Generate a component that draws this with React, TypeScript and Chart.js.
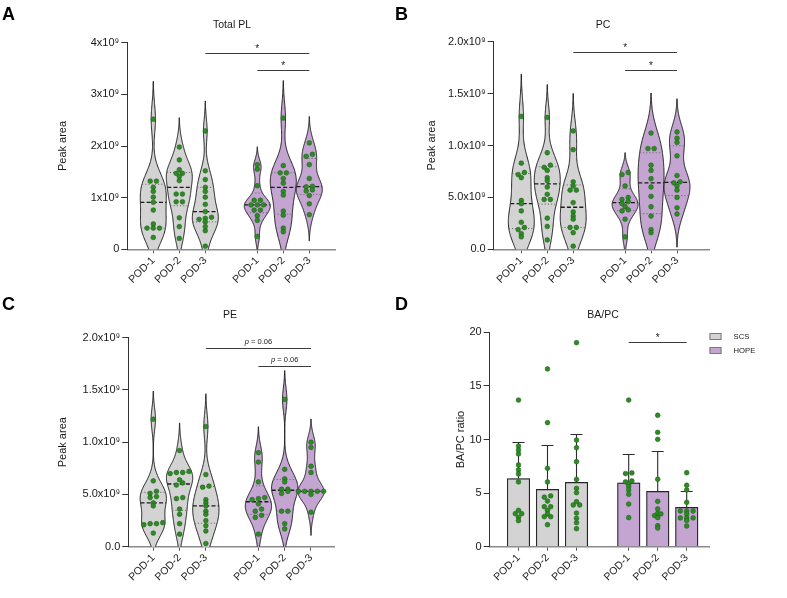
import React, { useEffect, useRef } from 'react';
import { Chart, registerables } from 'chart.js';

Chart.register(...registerables);

const FONT = "'Liberation Sans', Arial, Helvetica, sans-serif";
const INK = '#1a1a1a';
const SCS_FILL = '#d3d3d3';
const HOPE_FILL = '#c4a5d2';
const DOT_FILL = '#2d8a25';
const DOT_EDGE = '#1b5a14';

const TIMEPOINTS = ['POD-1', 'POD-2', 'POD-3'];
const GROUPS = ['SCS', 'HOPE'];
const GROUP_FILLS = [SCS_FILL, HOPE_FILL];

// Total PL, peak area (x10^9), one list per time point
const totalPlScs = [
  [2.52, 1.32, 1.32, 1.2, 1.12, 1.01, 0.91, 0.76, 0.49, 0.41, 0.41, 0.41, 0.23],
  [1.98, 1.73, 1.54, 1.47, 1.47, 1.41, 1.33, 1.07, 1.07, 0.92, 0.92, 0.61, 0.44, 0.21],
  [2.29, 1.52, 1.35, 1.2, 1.12, 1.01, 0.87, 0.73, 0.62, 0.6, 0.58, 0.53, 0.44, 0.36, 0.06],
];
const totalPlHope = [
  [1.64, 1.55, 1.23, 0.95, 0.95, 0.86, 0.86, 0.86, 0.76, 0.76, 0.65, 0.56, 0.25],
  [2.54, 1.62, 1.48, 1.48, 1.37, 1.28, 1.12, 1.05, 0.74, 0.66, 0.41, 0.34],
  [2.06, 1.84, 1.8, 1.64, 1.37, 1.22, 1.21, 1.15, 1.13, 1.04, 0.88, 0.67],
];

// PC, peak area (x10^9)
const pcScs = [
  [1.28, 0.83, 0.74, 0.72, 0.69, 0.47, 0.44, 0.37, 0.26, 0.21, 0.19, 0.15, 0.12],
  [1.27, 0.93, 0.81, 0.79, 0.76, 0.69, 0.66, 0.6, 0.53, 0.48, 0.48, 0.3, 0.22, 0.09],
  [1.14, 0.96, 0.65, 0.61, 0.57, 0.57, 0.45, 0.36, 0.32, 0.29, 0.21, 0.21, 0.16, 0.03],
];
const pcHope = [
  [0.74, 0.72, 0.61, 0.5, 0.48, 0.46, 0.44, 0.41, 0.38, 0.37, 0.29, 0.12],
  [1.12, 0.97, 0.97, 0.81, 0.76, 0.68, 0.6, 0.51, 0.41, 0.32, 0.19, 0.16],
  [1.13, 1.07, 1.03, 0.9, 0.71, 0.65, 0.64, 0.61, 0.57, 0.5, 0.4, 0.34],
];

// PE, peak area (x10^9)
const peScs = [
  [1.22, 0.63, 0.53, 0.51, 0.48, 0.47, 0.42, 0.39, 0.23, 0.22, 0.22, 0.21, 0.13],
  [0.92, 0.72, 0.71, 0.71, 0.7, 0.64, 0.61, 0.59, 0.47, 0.46, 0.36, 0.31, 0.22, 0.12],
  [1.15, 0.69, 0.58, 0.57, 0.45, 0.42, 0.39, 0.34, 0.31, 0.25, 0.2, 0.15, 0.03],
];
const peHope = [
  [0.9, 0.81, 0.62, 0.47, 0.46, 0.45, 0.41, 0.36, 0.34, 0.3, 0.28, 0.12],
  [1.41, 0.74, 0.65, 0.62, 0.55, 0.55, 0.53, 0.51, 0.34, 0.34, 0.22, 0.17],
  [1.0, 0.95, 0.77, 0.71, 0.53, 0.53, 0.53, 0.53, 0.53, 0.5, 0.33],
];

// BA/PC ratio, individual samples
const ratioScs = [
  [13.68, 9.39, 9.02, 8.65, 7.62, 7.16, 6.78, 6.04, 3.39, 3.08, 3.08, 2.74, 2.43],
  [16.58, 11.57, 7.31, 6.04, 4.74, 4.62, 4.26, 3.73, 3.73, 3.39, 3.05, 2.8, 2.8, 2.05],
  [19.03, 9.95, 9.24, 7.93, 6.28, 5.45, 5.04, 4.2, 3.89, 3.89, 3.14, 2.65, 2.24, 1.68],
];
const ratioHope = [
  [13.68, 6.88, 6.82, 6.13, 6.05, 5.85, 5.6, 5.29, 4.89, 3.98, 2.71],
  [12.26, 10.67, 10.02, 6.29, 4.23, 3.52, 3.1, 3.06, 2.9, 2.71, 1.96, 1.74],
  [6.9, 5.73, 5.29, 4.14, 3.33, 3.33, 3.33, 3.05, 2.68, 2.68, 2.68, 2.45, 1.93],
];
// bar heights (mean) and upper error (SD): SCS POD-1..3, HOPE POD-1..3
const ratioMean = [6.36, 5.35, 6.0, 5.95, 5.16, 3.67];
const ratioSd = [3.38, 4.11, 4.54, 2.73, 3.74, 1.56];

const totalPlTicks = [0, 1, 2, 3, 4];
const totalPlTickLabels = ['0', '1x10⁹', '2x10⁹', '3x10⁹', '4x10⁹'];
const halfTicks = [0, 0.5, 1, 1.5, 2];
const halfTickLabels = ['0.0', '5.0x10⁹', '1.0x10⁹', '1.5x10⁹', '2.0x10⁹'];
const ratioTicks = [0, 5, 10, 15, 20];
const ratioTickLabels = ['0', '5', '10', '15', '20'];

type Bracket = { from: [number, number]; to: [number, number]; y: number; text: string };

const totalPlBrackets: Bracket[] = [
  { from: [0, 2], to: [1, 2], y: 3.81, text: '*' },
  { from: [1, 0], to: [1, 2], y: 3.47, text: '*' },
];
const pcBrackets: Bracket[] = [
  { from: [0, 2], to: [1, 2], y: 1.898, text: '*' },
  { from: [1, 0], to: [1, 2], y: 1.724, text: '*' },
];
const peBrackets: Bracket[] = [
  { from: [0, 2], to: [1, 2], y: 1.9, text: 'p = 0.06' },
  { from: [1, 0], to: [1, 2], y: 1.729, text: 'p = 0.06' },
];
const ratioBrackets: Bracket[] = [{ from: [1, 0], to: [1, 2], y: 19.07, text: '*' }];

interface Frame {
  left: number; top: number; width: number; height: number;
  padL: number; yWidth: number; padR: number; padT: number; xHeight: number;
  xMin: number; xMax: number; titleX: number;
}

// ---------- statistics helpers ----------
function quantile(sorted: number[], p: number) {
  const n = sorted.length;
  const h = (n + 1) * p - 1;
  if (h <= 0) return sorted[0];
  if (h >= n - 1) return sorted[n - 1];
  const lo = Math.floor(h);
  return sorted[lo] + (h - lo) * (sorted[lo + 1] - sorted[lo]);
}

function violinShape(values: number[]) {
  const n = values.length;
  const sorted = [...values].sort((a, b) => a - b);
  const mean = values.reduce((s, v) => s + v, 0) / n;
  const sd = Math.sqrt(values.reduce((s, v) => s + (v - mean) ** 2, 0) / (n - 1));
  const q1 = quantile(sorted, 0.25);
  const q3 = quantile(sorted, 0.75);
  const iqr = q3 - q1;
  const spread = iqr > 0 ? Math.min(sd, iqr / 1.34) : sd;
  const bw = 0.8 * spread * Math.pow(n, -0.2);
  const density = (y: number) => values.reduce((s, v) => s + Math.exp(-0.5 * ((y - v) / bw) ** 2), 0);
  const lo = sorted[0] - 2.5 * bw;
  const hi = sorted[n - 1] + 2.5 * bw;
  const steps = 220;
  const raw: { y: number; d: number }[] = [];
  let peak = 0;
  for (let i = 0; i <= steps; i++) {
    const y = lo + ((hi - lo) * i) / steps;
    const d = density(y);
    raw.push({ y, d });
    if (d > peak) peak = d;
  }
  return {
    profile: raw.map((p) => ({ y: p.y, w: p.d / peak })),
    widthAt: (y: number) => density(y) / peak,
    median: quantile(sorted, 0.5),
    q1,
    q3,
  };
}

// rows of near-equal values are spread symmetrically around the column centre
function swarmOffsets(values: number[], tol: number, step: number) {
  const order = values.map((_, i) => i).sort((a, b) => values[a] - values[b]);
  const off = new Array(values.length).fill(0);
  let i = 0;
  while (i < order.length) {
    let j = i;
    while (j + 1 < order.length && values[order[j + 1]] - values[order[i]] <= tol) j++;
    const k = j - i + 1;
    for (let m = 0; m < k; m++) off[order[i + m]] = (m - (k - 1) / 2) * step;
    i = j + 1;
  }
  return off;
}

function swarmData(series: number[][][], slotOf: (g: number, t: number) => number, tol: number, step: number) {
  const pts: { x: number; y: number }[] = [];
  series.forEach((group, g) =>
    group.forEach((vals, t) => {
      const off = swarmOffsets(vals, tol, step);
      vals.forEach((v, i) => pts.push({ x: slotOf(g, t) + off[i], y: v }));
    })
  );
  return pts;
}

// ---------- plugins ----------
function violinPlugin(series: number[][][], slotOf: (g: number, t: number) => number, half: number) {
  const shapes: { slot: number; fill: string; shape: ReturnType<typeof violinShape> }[] = [];
  series.forEach((group, g) =>
    group.forEach((vals, t) => shapes.push({ slot: slotOf(g, t), fill: GROUP_FILLS[g], shape: violinShape(vals) }))
  );
  return {
    id: 'violins',
    beforeDatasetsDraw(chart: any) {
      const { ctx, chartArea: a, scales } = chart;
      const x = scales.x;
      const y = scales.y;
      ctx.save();
      ctx.beginPath();
      ctx.rect(a.left, a.top, a.right - a.left, a.bottom - a.top);
      ctx.clip();
      for (const v of shapes) {
        const { profile, widthAt, median, q1, q3 } = v.shape;
        const px = (o: number) => x.getPixelForValue(v.slot + o);
        ctx.beginPath();
        profile.forEach((p, i) => {
          const X = px(p.w * half);
          const Y = y.getPixelForValue(p.y);
          if (i === 0) ctx.moveTo(X, Y);
          else ctx.lineTo(X, Y);
        });
        for (let i = profile.length - 1; i >= 0; i--) {
          const p = profile[i];
          ctx.lineTo(px(-p.w * half), y.getPixelForValue(p.y));
        }
        ctx.closePath();
        ctx.fillStyle = v.fill;
        ctx.fill();
        ctx.setLineDash([]);
        ctx.lineWidth = 1;
        ctx.lineJoin = 'round';
        ctx.strokeStyle = INK;
        ctx.stroke();
        const hline = (val: number, dash: number[], color: string, lw: number) => {
          const w = widthAt(val) * half;
          const Y = y.getPixelForValue(val);
          ctx.setLineDash(dash);
          ctx.strokeStyle = color;
          ctx.lineWidth = lw;
          ctx.beginPath();
          ctx.moveTo(px(-w), Y);
          ctx.lineTo(px(w), Y);
          ctx.stroke();
        };
        hline(q1, [1.2, 2], '#6a6a6a', 1);
        hline(q3, [1.2, 2], '#6a6a6a', 1);
        hline(median, [4, 2.2], INK, 1.3);
      }
      ctx.setLineDash([]);
      ctx.restore();
    },
  };
}

function decorPlugin(opts: {
  letter: string; title: string; titleX: number; brackets: Bracket[];
  slotOf: (g: number, t: number) => number; legend?: boolean;
}) {
  return {
    id: 'decor',
    afterDraw(chart: any) {
      const { ctx, scales, chartArea } = chart;
      const x = scales.x;
      const y = scales.y;
      ctx.save();
      ctx.fillStyle = '#000';
      ctx.font = `bold 18px ${FONT}`;
      ctx.textAlign = 'left';
      ctx.textBaseline = 'alphabetic';
      ctx.fillText(opts.letter, 2, 20);

      ctx.fillStyle = INK;
      ctx.font = `10.5px ${FONT}`;
      ctx.textAlign = 'center';
      ctx.textBaseline = 'middle';
      ctx.fillText(opts.title, opts.titleX, 25);

      ctx.strokeStyle = '#3c3c3c';
      ctx.lineWidth = 1;
      for (const b of opts.brackets) {
        const x1 = x.getPixelForValue(opts.slotOf(b.from[0], b.from[1]));
        const x2 = x.getPixelForValue(opts.slotOf(b.to[0], b.to[1]));
        const yy = Math.round(y.getPixelForValue(b.y)) + 0.5;
        ctx.beginPath();
        ctx.moveTo(x1, yy);
        ctx.lineTo(x2, yy);
        ctx.stroke();
        const mid = (x1 + x2) / 2;
        ctx.textBaseline = 'alphabetic';
        if (b.text.startsWith('p ')) {
          const rest = b.text.slice(1);
          ctx.font = `italic 7.5px ${FONT}`;
          const wp = ctx.measureText('p').width;
          ctx.font = `7.5px ${FONT}`;
          const wr = ctx.measureText(rest).width;
          const start = mid - (wp + wr) / 2;
          ctx.textAlign = 'left';
          ctx.font = `italic 7.5px ${FONT}`;
          ctx.fillText('p', start, yy - 4.5);
          ctx.font = `7.5px ${FONT}`;
          ctx.fillText(rest, start + wp, yy - 4.5);
        } else {
          ctx.font = `10px ${FONT}`;
          ctx.textAlign = 'center';
          ctx.fillText(b.text, mid, yy - 1.5);
        }
      }

      if (opts.legend) {
        const bx = chartArea.right + 0.5;
        GROUPS.forEach((name, i) => {
          const by = 43 + i * 14;
          ctx.fillStyle = GROUP_FILLS[i];
          ctx.fillRect(bx, by, 12, 7);
          ctx.strokeStyle = '#7a7a7a';
          ctx.lineWidth = 1;
          ctx.strokeRect(bx + 0.5, by + 0.5, 11, 6);
          ctx.fillStyle = INK;
          ctx.font = `7.7px ${FONT}`;
          ctx.textAlign = 'left';
          ctx.textBaseline = 'middle';
          ctx.fillText(name, bx + 24, by + 3.8);
        });
      }
      ctx.restore();
    },
  };
}

function errorBarPlugin(slotOf: (g: number, t: number) => number) {
  return {
    id: 'errorBars',
    beforeDatasetDraw(chart: any, args: any) {
      if (args.meta.type !== 'bar') return;
      const ctx = chart.ctx;
      ctx.shadowColor = 'rgba(0,0,0,0.18)';
      ctx.shadowOffsetX = 2;
      ctx.shadowOffsetY = -1;
      ctx.shadowBlur = 0;
    },
    afterDatasetDraw(chart: any, args: any) {
      if (args.meta.type !== 'bar') return;
      const { ctx, scales } = chart;
      ctx.shadowColor = 'rgba(0,0,0,0)';
      ctx.shadowOffsetX = 0;
      ctx.shadowOffsetY = 0;
      ctx.save();
      ctx.strokeStyle = '#2b2b2b';
      ctx.lineWidth = 1.1;
      ratioMean.forEach((m, i) => {
        const g = Math.floor(i / 3);
        const t = i % 3;
        const cx = scales.x.getPixelForValue(slotOf(g, t));
        const y0 = scales.y.getPixelForValue(m);
        const y1 = Math.round(scales.y.getPixelForValue(m + ratioSd[i])) + 0.5;
        ctx.beginPath();
        ctx.moveTo(cx, y0);
        ctx.lineTo(cx, y1);
        ctx.moveTo(cx - 6, y1);
        ctx.lineTo(cx + 6, y1);
        ctx.stroke();
      });
      ctx.restore();
    },
  };
}

// ---------- shared axis setup ----------
function buildScales(
  frame: Frame, slots: number[], yMax: number, yTicks: number[], yLabels: string[], yTitle: string
) {
  const xLabels = [...TIMEPOINTS, ...TIMEPOINTS];
  return {
    x: {
      type: 'linear',
      min: frame.xMin,
      max: frame.xMax,
      offset: false,
      afterBuildTicks: (s: any) => { s.ticks = slots.map((v) => ({ value: v })); },
      afterFit: (s: any) => { s.height = frame.xHeight; },
      ticks: {
        autoSkip: false,
        maxRotation: 45,
        minRotation: 45,
        padding: 1,
        color: INK,
        font: { family: FONT, size: 10.5 },
        callback: (_v: number, i: number) => xLabels[i],
      },
      grid: { display: true, drawOnChartArea: false, drawTicks: true, tickLength: 4, color: '#555', tickColor: '#555', offset: false },
      border: { display: true, color: '#8a8a8a', width: 1.5 },
    },
    y: {
      type: 'linear',
      min: 0,
      max: yMax,
      afterBuildTicks: (s: any) => { s.ticks = yTicks.map((v) => ({ value: v })); },
      afterFit: (s: any) => { s.width = frame.yWidth; },
      ticks: {
        padding: 2,
        color: INK,
        font: { family: FONT, size: 11 },
        callback: (_v: number, i: number) => yLabels[i],
      },
      grid: { display: true, drawOnChartArea: false, drawTicks: true, tickLength: 6, color: '#333', tickColor: '#333' },
      border: { display: true, color: '#333', width: 1 },
      title: { display: true, text: yTitle, color: INK, font: { family: FONT, size: 11 }, padding: { top: 4, bottom: 4 } },
    },
  };
}

function baseOptions(frame: Frame) {
  return {
    animation: false,
    responsive: false,
    devicePixelRatio: 1,
    events: [],
    layout: { padding: { left: frame.padL, right: frame.padR, top: frame.padT, bottom: 0 } },
    plugins: { legend: { display: false }, tooltip: { enabled: false }, title: { display: false } },
  };
}

const violinSlot = (g: number, t: number) => g * 4 + t;
const barSlot = (g: number, t: number) => g * 3.8 + t;

function violinConfig(
  frame: Frame, letter: string, title: string, scs: number[][], hope: number[][],
  yMax: number, yTicks: number[], yLabels: string[], brackets: Bracket[], tol: number
) {
  const series = [scs, hope];
  const slots = [0, 1, 2].map((t) => violinSlot(0, t)).concat([0, 1, 2].map((t) => violinSlot(1, t)));
  return {
    type: 'scatter',
    data: {
      datasets: [
        {
          data: swarmData(series, violinSlot, tol, 0.24),
          pointRadius: 2.4,
          pointBackgroundColor: DOT_FILL,
          pointBorderColor: DOT_EDGE,
          pointBorderWidth: 0.5,
        },
      ],
    },
    options: { ...baseOptions(frame), scales: buildScales(frame, slots, yMax, yTicks, yLabels, 'Peak area') },
    plugins: [
      violinPlugin(series, violinSlot, 0.5),
      decorPlugin({ letter, title, titleX: frame.titleX, brackets, slotOf: violinSlot }),
    ],
  };
}

function ratioConfig(frame: Frame) {
  const series = [ratioScs, ratioHope];
  const slots = [0, 1, 2].map((t) => barSlot(0, t)).concat([0, 1, 2].map((t) => barSlot(1, t)));
  return {
    type: 'scatter',
    data: {
      datasets: [
        {
          type: 'scatter',
          order: 0,
          data: swarmData(series, barSlot, 0.18, 0.22),
          pointRadius: 2.4,
          pointBackgroundColor: DOT_FILL,
          pointBorderColor: DOT_EDGE,
          pointBorderWidth: 0.5,
        },
        {
          type: 'bar',
          order: 1,
          data: ratioMean.map((m, i) => ({ x: slots[i], y: m })),
          backgroundColor: ratioMean.map((_, i) => GROUP_FILLS[Math.floor(i / 3)]),
          borderColor: '#2b2b2b',
          borderWidth: 1.2,
          borderSkipped: 'bottom',
          barThickness: 22.5,
        },
      ],
    },
    options: { ...baseOptions(frame), scales: buildScales(frame, slots, 20, ratioTicks, ratioTickLabels, 'BA/PC ratio') },
    plugins: [
      errorBarPlugin(barSlot),
      decorPlugin({ letter: 'D', title: 'BA/PC', titleX: frame.titleX, brackets: ratioBrackets, slotOf: barSlot, legend: true }),
    ],
  };
}

const frameA: Frame = { left: 0, top: 0, width: 393, height: 290, padL: 52, yWidth: 75.3, padR: 57.7, padT: 42.7, xHeight: 40.7, xMin: -1, xMax: 7, titleX: 232 };
const frameB: Frame = { left: 393, top: 0, width: 394, height: 290, padL: 28.7, yWidth: 72, padR: 78, padT: 41.7, xHeight: 40.7, xMin: -1.064, xMax: 7.233, titleX: 210 };
const frameC: Frame = { left: 0, top: 290, width: 393, height: 308, padL: 52.7, yWidth: 75.6, padR: 58.7, padT: 47.7, xHeight: 51.3, xMin: -0.951, xMax: 6.887, titleX: 230 };
const frameD: Frame = { left: 393, top: 290, width: 394, height: 308, padL: 57.7, yWidth: 39, padR: 78, padT: 42.3, xHeight: 51.3, xMin: -0.993, xMax: 6.569, titleX: 210 };

function Panel({ frame, build }: { frame: Frame; build: () => any }) {
  const ref = useRef<HTMLCanvasElement>(null);
  useEffect(() => {
    const chart = new Chart(ref.current as HTMLCanvasElement, build());
    return () => chart.destroy();
  }, []);
  return (
    <canvas
      ref={ref}
      width={frame.width}
      height={frame.height}
      style={{ position: 'absolute', left: frame.left, top: frame.top, width: frame.width, height: frame.height }}
    />
  );
}

export default function App() {
  return (
    <div style={{ position: 'absolute', left: 0, top: 0, width: 787, height: 598, background: '#fff', overflow: 'hidden' }}>
      <Panel frame={frameA} build={() => violinConfig(frameA, 'A', 'Total PL', totalPlScs, totalPlHope, 4, totalPlTicks, totalPlTickLabels, totalPlBrackets, 0.048)} />
      <Panel frame={frameB} build={() => violinConfig(frameB, 'B', 'PC', pcScs, pcHope, 2, halfTicks, halfTickLabels, pcBrackets, 0.024)} />
      <Panel frame={frameC} build={() => violinConfig(frameC, 'C', 'PE', peScs, peHope, 2, halfTicks, halfTickLabels, peBrackets, 0.024)} />
      <Panel frame={frameD} build={() => ratioConfig(frameD)} />
    </div>
  );
}
